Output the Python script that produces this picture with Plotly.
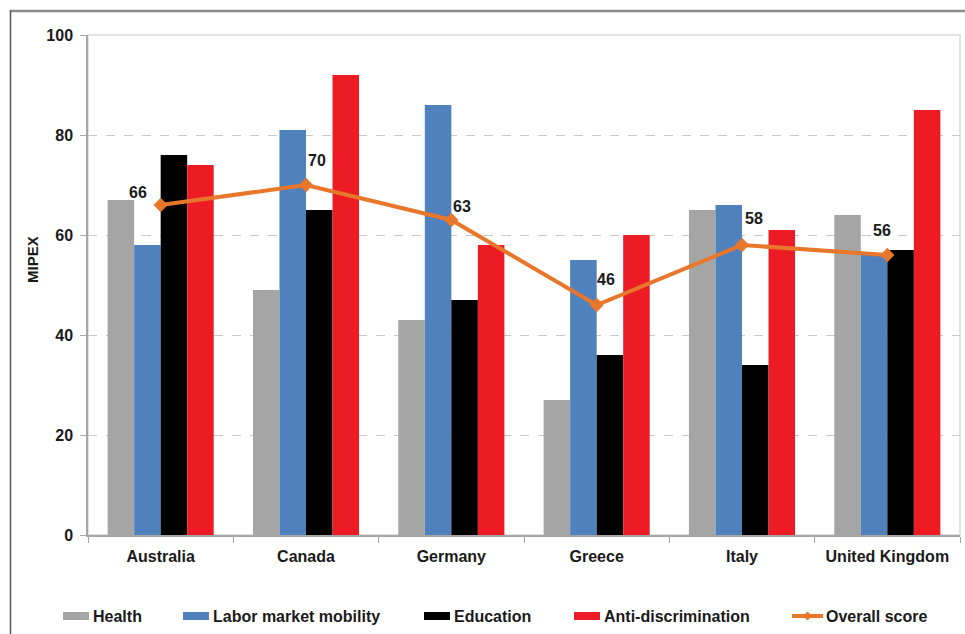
import plotly.graph_objects as go

# MIPEX integration policy scores by strand
countries = ["Australia", "Canada", "Germany", "Greece", "Italy", "United Kingdom"]
health = [67, 49, 43, 27, 65, 64]
labor_mobility = [58, 81, 86, 55, 66, 56]
education = [76, 65, 47, 36, 34, 57]
anti_discrimination = [74, 92, 58, 60, 61, 85]
overall_score = [66, 70, 63, 46, 58, 56]

y_ticks = [0, 20, 40, 60, 80, 100]

# label offsets (px) for the overall-score value labels
label_dx = [-23, 11, 11, 9, 12, -5]
label_dy = [13, 25, 14, 26, 27, 25]

FONT = "Liberation Sans, Arial, sans-serif"
TXT = "#1A1A1A"
ORANGE = "#E8762B"
W, H = 965, 634
M_L, M_R, M_T, M_B = 88, 5, 35, 99
plot_w = W - M_L - M_R
plot_h = H - M_T - M_B


def px_x(px):
    return (px - M_L) / plot_w


def px_y(py):
    return (H - M_B - py) / plot_h


def bold(size):
    return dict(family=FONT, size=size, color=TXT, weight="bold")


fig = go.Figure()

bar_series = [
    ("Health", health, "#A5A5A5"),
    ("Labor market mobility", labor_mobility, "#4F81BD"),
    ("Education", education, "#000000"),
    ("Anti-discrimination", anti_discrimination, "#ED1C24"),
]
for name, vals, color in bar_series:
    fig.add_trace(go.Bar(
        x=countries, y=vals, name=name,
        marker=dict(color=color, line=dict(width=0)),
        showlegend=False,
    ))

fig.add_trace(go.Scatter(
    x=countries, y=overall_score, name="Overall score",
    mode="lines+markers",
    line=dict(color=ORANGE, width=4),
    marker=dict(symbol="diamond", size=11, color=ORANGE),
    showlegend=False,
))

for c, v, dx, dy in zip(countries, overall_score, label_dx, label_dy):
    fig.add_annotation(
        x=c, y=v, text=str(v), showarrow=False,
        xshift=dx, yshift=dy, font=bold(16),
    )

# y-axis title
fig.add_annotation(
    xref="paper", yref="paper", x=px_x(32), y=px_y(260),
    xanchor="center", yanchor="middle",
    text="MIPEX", textangle=-90, showarrow=False, font=bold(15),
)

shapes = [
    # plot-area border
    dict(type="rect", xref="paper", yref="paper", x0=0, x1=1, y0=0, y1=1,
         line=dict(color="#D9D9D9", width=1.5), layer="below"),
    # outer frame
    dict(type="line", xref="paper", yref="paper",
         x0=px_x(10), x1=px_x(970), y0=px_y(11), y1=px_y(11),
         line=dict(color="#8C8C8C", width=2.5)),
    dict(type="line", xref="paper", yref="paper",
         x0=px_x(10.5), x1=px_x(10.5), y0=px_y(10), y1=px_y(640),
         line=dict(color="#555555", width=1.5)),
]

# legend row along the bottom
legend_y = 616
legend_x = [63, 183, 424, 574]
for (name, _, color), x0 in zip(bar_series, legend_x):
    shapes.append(dict(
        type="rect", xref="paper", yref="paper",
        x0=px_x(x0), x1=px_x(x0 + 26),
        y0=px_y(legend_y - 4), y1=px_y(legend_y + 4),
        fillcolor=color, line=dict(width=0),
    ))
    fig.add_annotation(
        xref="paper", yref="paper", x=px_x(x0 + 28), y=px_y(legend_y),
        xanchor="left", yanchor="middle", text=name, showarrow=False,
        font=bold(16),
    )

ov_x0 = 792
shapes.append(dict(
    type="line", xref="paper", yref="paper",
    x0=px_x(ov_x0), x1=px_x(ov_x0 + 31),
    y0=px_y(legend_y), y1=px_y(legend_y),
    line=dict(color=ORANGE, width=4),
))
cx, cy, r = ov_x0 + 15.5, legend_y, 4.5
shapes.append(dict(
    type="path", xref="paper", yref="paper",
    path=(f"M {px_x(cx - r)} {px_y(cy)} L {px_x(cx)} {px_y(cy - r)} "
          f"L {px_x(cx + r)} {px_y(cy)} L {px_x(cx)} {px_y(cy + r)} Z"),
    fillcolor=ORANGE, line=dict(width=0),
))
fig.add_annotation(
    xref="paper", yref="paper", x=px_x(ov_x0 + 32), y=px_y(legend_y),
    xanchor="left", yanchor="middle", text="Overall score", showarrow=False,
    font=bold(16),
)

fig.update_layout(
    width=W, height=H,
    margin=dict(l=M_L, r=M_R, t=M_T, b=M_B),
    paper_bgcolor="white", plot_bgcolor="white",
    barmode="group", bargap=0.27, bargroupgap=0,
    font=dict(family=FONT, size=16, color=TXT),
    shapes=shapes,
    showlegend=False,
    xaxis=dict(
        type="category", tickson="boundaries",
        ticks="outside", ticklen=6, tickcolor="#A6A6A6",
        showline=True, linecolor="#A6A6A6", linewidth=1.5,
        tickfont=bold(16), ticklabelstandoff=6,
        showgrid=False,
    ),
    yaxis=dict(
        range=[0, 100], tickvals=y_ticks,
        ticks="outside", ticklen=6, tickcolor="#A6A6A6",
        showline=True, linecolor="#A6A6A6", linewidth=1.5,
        showgrid=True, gridcolor="#C8C8C8", griddash="dash", gridwidth=1,
        zeroline=False,
        tickfont=bold(16), ticklabelstandoff=4,
    ),
)

fig.write_html("out.html")
